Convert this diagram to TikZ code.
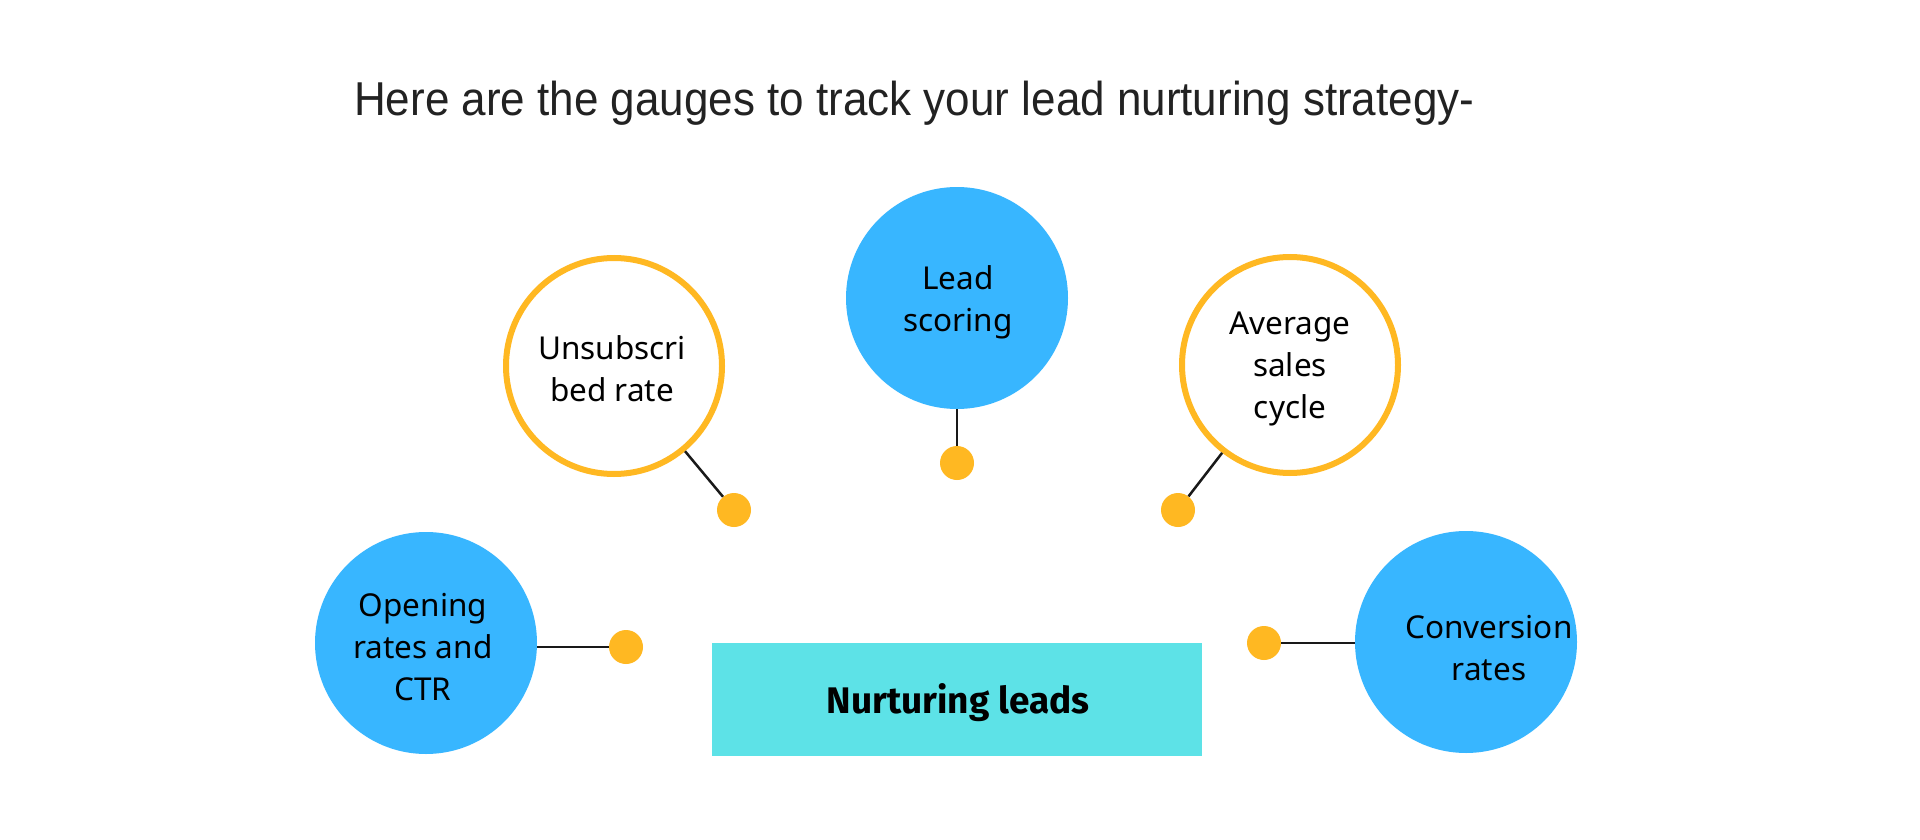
\documentclass[tikz,border=0pt]{standalone}
\usepackage{fontspec}
\setmainfont{Noto Sans}
\newfontfamily\titlefont{Liberation Sans}
\newfontfamily\boxfont{Fira Sans}
\definecolor{cblue}{HTML}{38B6FF}
\definecolor{corange}{HTML}{FFB822}
\definecolor{ccyan}{HTML}{5DE2E7}
\definecolor{ctitle}{HTML}{222222}
\begin{document}
\begin{tikzpicture}[x=1pt,y=-1pt,
  bluecirc/.style={circle,fill=cblue,minimum size=222pt,inner sep=0pt,align=center,
    font=\fontsize{31.5}{42}\selectfont},
  orangecirc/.style={circle,draw=corange,line width=6pt,fill=white,minimum size=216pt,inner sep=0pt,align=center,
    font=\fontsize{31.5}{42}\selectfont},
  circtext/.style={align=center,font=\fontsize{31.5}{42}\selectfont,inner sep=0pt},
  dotnode/.style={circle,fill=corange,minimum size=34pt,inner sep=0pt},
  link/.style={line width=2.5pt,draw=black!90}]
\useasboundingbox[fill=white] (0,0) rectangle (1920,840);
\node[anchor=base west,text=ctitle,font=\titlefont\fontsize{44}{50}\selectfont,inner sep=0pt] (title) at (354,116) {\scalebox{1}[1.08]{Here are the gauges to track your lead nurturing strategy-}};
% circles
\node[bluecirc] (lead) at (957,298) {};
\node[circtext] (leadtext) at (958,302) {Lead\\scoring};
\node[orangecirc] (unsub) at (614,366) {};
\node[circtext] (unsubtext) at (612,369) {Unsubscri\\bed rate};
\node[orangecirc] (avg) at (1290,365) {};
\node[circtext] (avgtext) at (1290,369) {Average\\sales\\cycle};
\node[bluecirc] (open) at (426,643) {};
\node[circtext] (opentext) at (423,647) {Opening\\rates and\\CTR};
\node[bluecirc] (conv) at (1466,642) {};
\node[circtext] (convtext) at (1489,648) {Conversion\\rates};
% dots
\node[dotnode] (dlead) at (957,463) {};
\node[dotnode] (dunsub) at (734,510) {};
\node[dotnode] (davg) at (1178,510) {};
\node[dotnode] (dopen) at (626,647) {};
\node[dotnode] (dconv) at (1264,643) {};
% connectors
\draw[link] (lead.south) -- (dlead);
\draw[link] (unsub) -- (dunsub);
\draw[link] (avg) -- (davg);
\draw[link] (open.east |- dopen) -- (dopen);
\draw[link] (dconv) -- (conv.west |- dconv);
% box
\node[fill=ccyan,minimum width=490pt,minimum height=113pt,inner sep=0pt] (box) at (957,699.5) {};
\node[font=\boxfont\bfseries\fontsize{37}{40}\selectfont,anchor=base,inner sep=0pt] (boxtext) at (958,713) {Nurturing leads};
\end{tikzpicture}
\end{document}
